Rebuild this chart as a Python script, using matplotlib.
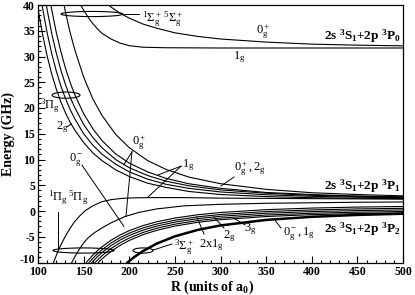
import matplotlib
matplotlib.use('Agg')
import matplotlib.pyplot as plt
from matplotlib.patches import Ellipse
from matplotlib.ticker import MultipleLocator
from matplotlib.transforms import ScaledTranslation

plt.rcParams['font.family'] = ['Liberation Serif', 'DejaVu Serif']
plt.rcParams['mathtext.fontset'] = 'stix'
plt.rcParams['mathtext.default'] = 'regular'
plt.rcParams['axes.unicode_minus'] = False

# ---- 2s3S1+2p3P0 asymptote ----
r_p0_0gp = [175, 180, 190, 200, 215, 230, 250, 275, 300, 350, 400, 450, 500]
e_p0_0gp = [40.3, 39.6, 38.4, 37.45, 36.3, 35.5, 34.6, 33.9, 33.4, 32.8, 32.4, 32.2, 32.07]
r_p0_1g = [145, 150, 155, 160, 165, 170, 180, 190, 200, 215, 240, 300, 500]
e_p0_1g = [40.5, 39.0, 37.6, 36.4, 35.4, 34.5, 33.4, 32.6, 32.1, 31.8, 31.7, 31.65, 31.65]

# ---- 2s3S1+2p3P1 asymptote, repulsive ----
r_c1 = [125, 130, 135, 140, 150, 160, 170, 185, 200, 220, 240, 265, 300, 350, 400, 450, 500]
e_c1 = [43.3, 38.7, 34.8, 31.5, 26.0, 21.8, 18.6, 14.9, 12.3, 9.8, 8.1, 6.6, 5.3, 4.2, 3.55, 3.2, 2.94]
r_g1 = [110, 115, 120, 125, 130, 135, 140, 150, 160, 170, 185, 200, 220, 240, 265, 300, 350, 400, 450, 500]
e_g1 = [44.4, 39.1, 34.7, 31.0, 27.8, 25.1, 22.7, 18.9, 16.0, 13.7, 11.1, 9.3, 7.6, 6.35, 5.3, 4.4, 3.6, 3.2, 2.9, 2.75]
r_g2 = [105, 110, 115, 120, 125, 130, 135, 140, 150, 160, 170, 185, 200, 220, 240, 265, 300, 350, 400, 450, 500]
e_g2 = [44.6, 39.1, 34.5, 30.7, 27.4, 24.6, 22.2, 20.2, 16.8, 14.3, 12.3, 10.0, 8.4, 6.9, 5.8, 4.9, 4.1, 3.45, 3.05, 2.85, 2.7]
r_g3 = [100, 105, 110, 115, 120, 125, 130, 135, 140, 150, 160, 170, 185, 200, 220, 240, 265, 300, 350, 400, 450, 500]
e_g3 = [45.3, 39.4, 34.6, 30.6, 27.2, 24.3, 21.9, 19.8, 18.0, 15.0, 12.8, 11.05, 9.1, 7.6, 6.2, 5.2, 4.4, 3.7, 3.15, 2.85, 2.68, 2.58]
r_g4 = [100, 105, 110, 115, 120, 125, 130, 135, 140, 150, 160, 170, 185, 200, 220, 240, 265, 300, 350, 400, 450, 500]
e_g4 = [39.3, 34.3, 30.1, 26.6, 23.7, 21.2, 19.1, 17.3, 15.8, 13.3, 11.3, 9.8, 8.0, 6.7, 5.4, 4.6, 3.8, 3.2, 2.8, 2.58, 2.47, 2.4]

# ---- 2s3S1+2p3P1 asymptote, attractive ----
r_h = [117, 121, 125, 130, 135, 140, 146, 152, 160, 170, 180, 192, 205, 225, 260, 300, 400, 500]
e_h = [-10, -8.2, -6.6, -4.9, -3.4, -2.1, -0.9, 0.1, 1.0, 1.8, 2.2, 2.45, 2.55, 2.6, 2.6, 2.5, 2.4, 2.3]
r_a1 = [137, 140, 145, 150, 155, 162, 170, 180, 195, 210, 230, 260, 300, 350, 400, 450, 500]
e_a1 = [-10, -9.0, -7.5, -6.2, -5.2, -4.2, -3.3, -2.3, -1.1, -0.3, 0.4, 1.0, 1.3, 1.5, 1.6, 1.7, 1.75]

# ---- 2s3S1+2p3P2 asymptote ----
r_b1 = [153, 155, 160, 165, 170, 180, 190, 200, 215, 230, 250, 275, 300, 350, 400, 450, 500]
e_b1 = [-10, -9.57, -8.59, -7.73, -6.96, -5.68, -4.65, -3.81, -2.84, -2.10, -1.37, -0.73, -0.29, 0.26, 0.57, 0.76, 0.88]
r_b2 = [156, 160, 165, 170, 180, 190, 200, 215, 230, 250, 275, 300, 350, 400, 450, 500]
e_b2 = [-10, -9.21, -8.32, -7.53, -6.21, -5.16, -4.30, -3.29, -2.54, -1.79, -1.13, -0.68, -0.11, 0.21, 0.40, 0.52]
r_b3 = [159, 165, 170, 180, 190, 200, 215, 230, 250, 275, 300, 350, 400, 450, 500]
e_b3 = [-10, -8.89, -8.08, -6.72, -5.63, -4.75, -3.72, -2.94, -2.16, -1.49, -1.02, -0.44, -0.11, 0.08, 0.21]
r_b4 = [162.5, 170, 180, 190, 200, 215, 230, 250, 275, 300, 350, 400, 450, 500]
e_b4 = [-10, -8.70, -7.29, -6.16, -5.25, -4.18, -3.36, -2.56, -1.86, -1.38, -0.78, -0.44, -0.23, -0.10]
r_b5 = [166, 170, 180, 190, 200, 215, 230, 250, 275, 300, 350, 400, 450, 500]
e_b5 = [-10, -9.31, -7.84, -6.67, -5.72, -4.60, -3.76, -2.93, -2.20, -1.69, -1.07, -0.71, -0.50, -0.37]
r_3sig = [198, 205, 215, 230, 250, 275, 300, 350, 400, 450, 500]
e_3sig = [-10, -9.0, -7.79, -6.34, -4.92, -3.67, -2.80, -1.73, -1.13, -0.76, -0.53]

thin_curves = [
    (r_p0_0gp, e_p0_0gp), (r_p0_1g, e_p0_1g),
    (r_c1, e_c1), (r_g1, e_g1), (r_g2, e_g2), (r_g3, e_g3), (r_g4, e_g4),
    (r_h, e_h), (r_a1, e_a1),
    (r_b1, e_b1), (r_b2, e_b2), (r_b3, e_b3), (r_b4, e_b4), (r_b5, e_b5),
]

fig = plt.figure(figsize=(4.15, 2.95), dpi=100)
ax = fig.add_axes([38 / 415, 32.5 / 295, 365 / 415, 257.5 / 295])

for r, e in thin_curves:
    ax.plot(r, e, color='black', lw=0.8)
ax.plot(r_3sig, e_3sig, color='black', lw=1.8)

# ellipses round groups of curves
for (cx, cy, w, h) in [(159.2, 38.25, 68, 1.0), (130.7, 22.5, 30.7, 1.2),
                       (149.9, -7.67, 67, 1.0), (215.1, -7.67, 22, 1.0)]:
    ax.add_patch(Ellipse((cx, cy), w, h, fill=False, color='black', lw=0.8))

# pointer lines
pointers = [
    ((194.2, 210.7), (38.25, 38.25)),
    ((131.5, 136.5), (16.3, 16.9)),
    ((148.2, 194.2), (8.9, -3.0)),
    ((203.0, 194.2), (11.5, 9.0)),
    ((203.0, 196.4), (11.5, -1.0)),
    ((256.7, 231.5), (8.7, 7.0)),
    ((256.7, 220.5), (8.7, 2.7)),
    ((121.9, 121.9), (-0.2, -7.2)),
    ((226.0, 246.8), (-7.6, -6.4)),
    ((282.0, 274.2), (-4.5, -1.2)),
    ((303.8, 292.9), (-3.3, -1.2)),
    ((326.8, 314.8), (-2.7, -1.4)),
    ((366.3, 358.6), (-3.3, -1.55)),
    ((314.8, 300.5), (6.6, 4.85)),
]
for xs, ys in pointers:
    ax.plot(xs, ys, color='black', lw=0.7)

fs = 9
ax.text(347, 34.8, r'$0_g^+$', fontsize=fs, ha='center', va='center')
ax.text(320.3, 29.9, r'$1_g$', fontsize=fs, ha='center', va='center')
ax.text(214, 37.3, r'$^1\Sigma_g^+\,^5\Sigma_g^+$', fontsize=fs, ha='left', va='center')
ax.text(113.7, 20.4, r'$^3\Pi_g$', fontsize=fs, ha='center', va='center')
ax.text(126.3, 16.3, r'$2_g$', fontsize=fs, ha='center', va='center')
ax.text(141.6, 9.9, r'$0_g^-$', fontsize=fs, ha='center', va='center')
ax.text(210.7, 13.3, r'$0_g^+$', fontsize=fs, ha='center', va='center')
ax.text(264.4, 9.0, r'$1_g$', fontsize=fs, ha='center', va='center')
ax.text(332.3, 8.2, r'$0_g^+, 2_g$', fontsize=fs, ha='center', va='center')
ax.text(133.4, 2.5, r'$^1\Pi_g\,^5\Pi_g$', fontsize=fs, ha='center', va='center')
ax.text(249, -7.0, r'$^3\Sigma_g^+$', fontsize=fs, ha='left', va='center')
ax.text(289.6, -6.6, r'$2$x$1_g$', fontsize=fs, ha='center', va='center')
ax.text(309.3, -4.85, r'$2_g$', fontsize=fs, ha='center', va='center')
ax.text(332.3, -3.5, r'$3_g$', fontsize=fs, ha='center', va='center')
ax.text(386, -4.4, r'$0_g^-, 1_g$', fontsize=fs, ha='center', va='center')

fb = 9.5
ax.text(497.5, 33.9, r'$2s\ ^3S_1$+$2p\ ^3P_0$', fontsize=fb, fontweight='bold', ha='right', va='center')
ax.text(497.5, 4.85, r'$2s\ ^3S_1$+$2p\ ^3P_1$', fontsize=fb, fontweight='bold', ha='right', va='center')
ax.text(497.5, -3.6, r'$2s\ ^3S_1$+$2p\ ^3P_2$', fontsize=fb, fontweight='bold', ha='right', va='center')

ax.set_xlim(100, 500)
ax.set_ylim(-10, 40)
ax.xaxis.set_major_locator(MultipleLocator(50))
ax.xaxis.set_minor_locator(MultipleLocator(10))
ax.yaxis.set_major_locator(MultipleLocator(5))
ax.yaxis.set_minor_locator(MultipleLocator(1))
ax.tick_params(which='both', direction='in', top=False, right=False, width=0.8)
ax.tick_params(which='major', length=5, labelsize=8.5)
ax.tick_params(which='minor', length=2.5)
ax.tick_params(axis='x', which='major', pad=2.5)
ax.tick_params(axis='y', which='major', pad=2)
for lab in ax.get_xticklabels() + ax.get_yticklabels():
    lab.set_fontweight('bold')
# lift the "-10" label a little, it sits just above "100" in the original
for tick in ax.yaxis.get_major_ticks():
    if abs(tick.get_loc() + 10) < 1e-6:
        lab = tick.label1
        lab.set_transform(lab.get_transform() + ScaledTranslation(0, 3 / 72, fig.dpi_scale_trans))
for sp in ax.spines.values():
    sp.set_linewidth(0.9)

ax.set_xlabel(r'R (units of a$_0$)', fontsize=10, fontweight='bold')
ax.xaxis.set_label_coords(0.477, -0.064)
ax.set_ylabel('Energy (GHz)', fontsize=10, fontweight='bold')
ax.yaxis.set_label_coords(-0.063, 0.5)

fig.savefig('out.png', dpi=100)
